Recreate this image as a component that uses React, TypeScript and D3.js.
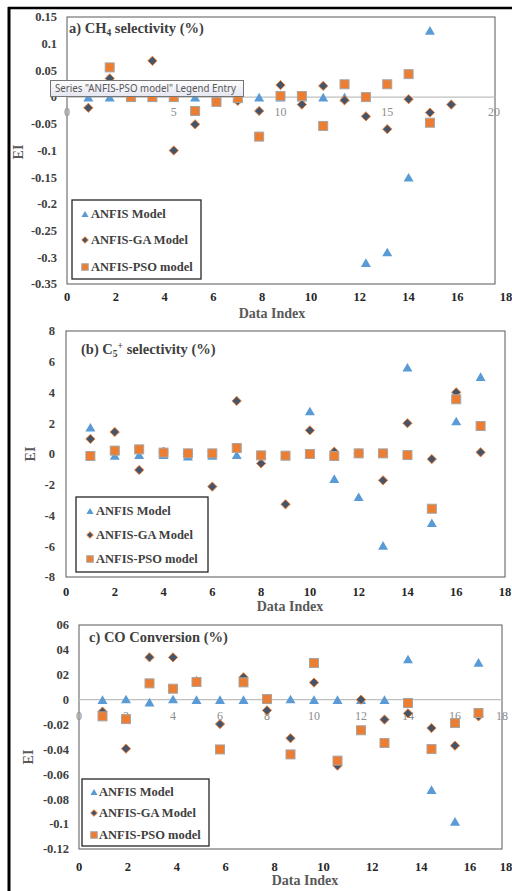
import React from 'react';
import * as d3 from 'd3';

const W = 512;
const H = 891;

const seriesNames = ['ANFIS Model', 'ANFIS-GA Model', 'ANFIS-PSO model'];

// Panel a: CH4 selectivity
const anfisA = [0, 0, 0, 0, 0, 0, 0, 0, 0, 0, 0, 0, 0, -0.31, -0.29, -0.15, 0.125];
const gaA = [-0.02, 0.035, 0, 0.068, -0.1, -0.051, -0.005, -0.007, -0.026, 0.0225, -0.014, 0.021, -0.006, -0.036, -0.06, -0.004, -0.029, -0.014];
const psoA = [0.01, 0.0556, 0, 0, 0, -0.026, -0.009, -0.002, -0.074, 0.002, 0.002, -0.054, 0.024, 0, 0.024, 0.043, -0.048];
const yTicksA = [0.15, 0.1, 0.05, 0, -0.05, -0.1, -0.15, -0.2, -0.25, -0.3, -0.35];
const innerTicksA = [0, 5, 10, 15, 20];

// Panel b: C5+ selectivity
const anfisB = [1.74, -0.1, -0.05, -0.05, -0.15, -0.1, -0.05, -0.05, -0.05, 2.8, -1.6, -2.78, -5.94, 5.64, -4.47, 2.15, 5.03];
const gaB = [0.98, 1.43, -1.04, 0.15, 0.05, -2.12, 3.45, -0.61, -3.27, 1.54, 0.15, 0.05, -1.71, 2.0, -0.33, 4.01, 0.11];
const psoB = [-0.13, 0.22, 0.3, 0.09, 0.04, 0.04, 0.39, -0.09, -0.11, 0, -0.13, 0.04, 0.04, -0.07, -3.56, 3.56, 1.82];
const yTicksB = [8, 6, 4, 2, 0, -2, -4, -6, -8];

// Panel c: CO conversion
const anfisC = [0, 0.0005, -0.002, 0.0005, 0, 0, 0, 0, 0.0005, 0, 0, 0, 0, 0.0327, -0.0723, -0.0978, 0.03];
const gaC = [-0.0096, -0.0394, 0.034, 0.034, 0.015, -0.0196, 0.018, -0.0086, -0.031, 0.0137, -0.053, 0, -0.016, -0.011, -0.0228, -0.037, -0.0134];
const psoC = [-0.0134, -0.0156, 0.0131, 0.0088, 0.0142, -0.04, 0.0139, 0.0005, -0.044, 0.0295, -0.049, -0.0246, -0.0348, -0.0027, -0.0397, -0.0188, -0.0107];
const yTicksC = [0.06, 0.04, 0.02, 0, -0.02, -0.04, -0.06, -0.08, -0.1, -0.12];
const yLabelsC = ['06', '04', '02', '0', '-0.02', '-0.04', '-0.06', '-0.08', '-0.1', '-0.12'];

const xTicks18 = [0, 2, 4, 6, 8, 10, 12, 14, 16, 18];

const BLUE = '#5B9BD5';
const ORANGE = '#ED7D31';
const NAVY = '#44546A';
const GRAY = '#A5A5A5';
const SERIF = '"Liberation Serif", "Times New Roman", serif';

type Kind = 'tri' | 'dia' | 'sq';

function Marker({ kind, x, y, s = 1 }: { kind: Kind; x: number; y: number; s?: number }) {
  if (kind === 'tri') {
    const w = 10 * s, h = 8.6 * s;
    const p = d3.path();
    p.moveTo(x - w / 2, y + h / 2);
    p.lineTo(x, y - h / 2);
    p.lineTo(x + w / 2, y + h / 2);
    p.closePath();
    return <path d={p.toString()} fill={BLUE} />;
  }
  if (kind === 'dia') {
    const r = 4.6 * s;
    const p = d3.path();
    p.moveTo(x, y - r);
    p.lineTo(x + r, y);
    p.lineTo(x, y + r);
    p.lineTo(x - r, y);
    p.closePath();
    return <path d={p.toString()} fill={NAVY} stroke={ORANGE} strokeWidth={1} />;
  }
  const a = 9 * s;
  return <rect x={x - a / 2} y={y - a / 2} width={a} height={a} fill={ORANGE} stroke={GRAY} strokeWidth={1} />;
}

interface PanelCfg {
  plot: { l: number; t: number; r: number; b: number };
  yDomain: [number, number];
  yTicks: number[];
  yLabels: string[];
  yLabelRight: number;
  dataX: [number, number, number, number]; // domain0, domain1, range0, range1
  bottomX: [number, number, number, number];
  bottomBaseline: number;
  inner?: { ticks: number[]; offset: number };
  title: React.ReactNode;
  titlePos: [number, number];
  legend: { x: number; y: number; w: number; h: number; rows: number[]; mx: number; tx: number };
  ei: [number, number];
  dataIndex: [number, number];
  series: [number[], number[], number[]];
}

function Panel({ cfg }: { cfg: PanelCfg }) {
  const { plot } = cfg;
  const y = d3.scaleLinear().domain(cfg.yDomain).range([plot.b, plot.t]);
  const xd = d3.scaleLinear().domain([cfg.dataX[0], cfg.dataX[1]]).range([cfg.dataX[2], cfg.dataX[3]]);
  const xb = d3.scaleLinear().domain([cfg.bottomX[0], cfg.bottomX[1]]).range([cfg.bottomX[2], cfg.bottomX[3]]);
  const kinds: Kind[] = ['tri', 'dia', 'sq'];
  return (
    <g>
      <rect x={plot.l} y={plot.t} width={plot.r - plot.l} height={plot.b - plot.t} fill="#fff" stroke="#595959" strokeWidth={1} />
      {cfg.inner && (
        <g>
          <line x1={plot.l} x2={plot.r} y1={y(0)} y2={y(0)} stroke="#BFBFBF" strokeWidth={1.2} />
          {cfg.inner.ticks.map((t) => (
            <text key={t} x={xd(t)} y={y(0) + cfg.inner!.offset} textAnchor="middle" fontFamily={SERIF} fontSize={12} fill="#8C8C8C">
              {t}
            </text>
          ))}
        </g>
      )}
      {cfg.yTicks.map((t, i) => (
        <text key={t} x={cfg.yLabelRight} y={y(t)} dy="0.35em" textAnchor="end" fontFamily={SERIF} fontWeight="bold" fontSize={12.5} fill="#404040">
          {cfg.yLabels[i]}
        </text>
      ))}
      {xTicks18.map((t) => (
        <text key={t} x={Math.min(xb(t), 506)} y={cfg.bottomBaseline} textAnchor="middle" fontFamily={SERIF} fontWeight="bold" fontSize={12.5} fill="#262626">
          {t}
        </text>
      ))}
      <text x={cfg.titlePos[0]} y={cfg.titlePos[1]} fontFamily={SERIF} fontWeight="bold" fontSize={14.5} fill="#404040">
        {cfg.title}
      </text>
      {cfg.series.map((vals, si) =>
        vals.map((v, i) => <Marker key={`${si}-${i}`} kind={kinds[si]} x={xd(i + 1)} y={y(v)} />)
      )}
      <rect x={cfg.legend.x} y={cfg.legend.y} width={cfg.legend.w} height={cfg.legend.h} fill="#fff" stroke="#262626" strokeWidth={1.3} />
      {seriesNames.map((n, i) => (
        <g key={n}>
          <Marker kind={kinds[i]} x={cfg.legend.mx} y={cfg.legend.rows[i]} s={0.72} />
          <text x={cfg.legend.tx} y={cfg.legend.rows[i]} dy="0.35em" fontFamily={SERIF} fontWeight="bold" fontSize={12.5} fill="#404040">
            {n}
          </text>
        </g>
      ))}
      <text transform={`translate(${cfg.ei[0]},${cfg.ei[1]}) rotate(-90)`} textAnchor="middle" dy="0.35em" fontFamily={SERIF} fontWeight="bold" fontSize={14} fill="#595959">
        EI
      </text>
      <text x={cfg.dataIndex[0]} y={cfg.dataIndex[1]} textAnchor="middle" fontFamily={SERIF} fontWeight="bold" fontSize={14} fill="#595959">
        Data Index
      </text>
    </g>
  );
}

const fmtA = (v: number) => (v === 0 ? '0' : String(v));

const panelA: PanelCfg = {
  plot: { l: 67, t: 17, r: 495, b: 284 },
  yDomain: [-0.35, 0.15],
  yTicks: yTicksA,
  yLabels: yTicksA.map(fmtA),
  yLabelRight: 57,
  dataX: [0, 20, 67, 494],
  bottomX: [0, 18, 67, 506],
  bottomBaseline: 301,
  inner: { ticks: innerTicksA, offset: 19 },
  title: (
    <>
      a) CH<tspan fontSize={9.5} dy={3}>4</tspan>
      <tspan dy={-3}> selectivity (%)</tspan>
    </>
  ),
  titlePos: [69, 33],
  legend: { x: 72, y: 200, w: 129, h: 79, rows: [214, 240, 267], mx: 85, tx: 91 },
  ei: [18, 152],
  dataIndex: [272, 318],
  series: [anfisA, gaA, psoA],
};

const panelB: PanelCfg = {
  plot: { l: 66, t: 331, r: 505, b: 577 },
  yDomain: [-8, 8],
  yTicks: yTicksB,
  yLabels: yTicksB.map(String),
  yLabelRight: 55,
  dataX: [0, 18, 66, 505],
  bottomX: [0, 18, 66, 505],
  bottomBaseline: 596,
  title: (
    <>
      (b) C<tspan fontSize={9.5} dy={3}>5</tspan>
      <tspan fontSize={9.5} dy={-8}>+</tspan>
      <tspan dy={5}> selectivity (%)</tspan>
    </>
  ),
  titlePos: [81, 354],
  legend: { x: 76, y: 497, w: 132, h: 75, rows: [511, 535, 559], mx: 90, tx: 96 },
  ei: [30, 454],
  dataIndex: [290, 611],
  series: [anfisB, gaB, psoB],
};

const panelC: PanelCfg = {
  plot: { l: 79, t: 625, r: 502, b: 849 },
  yDomain: [-0.12, 0.06],
  yTicks: yTicksC,
  yLabels: yLabelsC,
  yLabelRight: 69,
  dataX: [0, 18, 79, 502],
  bottomX: [0, 18, 79, 519],
  bottomBaseline: 871,
  inner: { ticks: xTicks18, offset: 20 },
  title: <>c) CO Conversion (%)</>,
  titlePos: [89, 642],
  legend: { x: 82, y: 779, w: 127, h: 67, rows: [792, 813, 835], mx: 94, tx: 99 },
  ei: [28, 757],
  dataIndex: [305, 885],
  series: [anfisC, gaC, psoC],
};

export default function App() {
  return (
    <svg width={W} height={H} style={{ position: 'absolute', left: 0, top: 0, background: '#fff' }}>
      <defs>
        <linearGradient id="tipg" x1="0" y1="0" x2="0" y2="1">
          <stop offset="0" stopColor="#FFFFFF" />
          <stop offset="1" stopColor="#E4E5F0" />
        </linearGradient>
      </defs>
      <rect x={0} y={0} width={W} height={H} fill="#fff" />
      <Panel cfg={panelA} />
      <Panel cfg={panelB} />
      <Panel cfg={panelC} />
      <g>
        <rect x={50.5} y={80.5} width={193} height={16} fill="url(#tipg)" stroke="#767676" strokeWidth={1} />
        <text x={55} y={92} fontFamily='"Noto Sans", "DejaVu Sans", sans-serif' fontSize={10.5} fill="#575757" textLength={181} lengthAdjust="spacingAndGlyphs">
          Series "ANFIS-PSO model" Legend Entry
        </text>
      </g>
      <line x1={8} x2={512} y1={8} y2={8} stroke="#000" strokeWidth={2.5} />
      <line x1={9} x2={9} y1={7} y2={H} stroke="#000" strokeWidth={3} />
    </svg>
  );
}
